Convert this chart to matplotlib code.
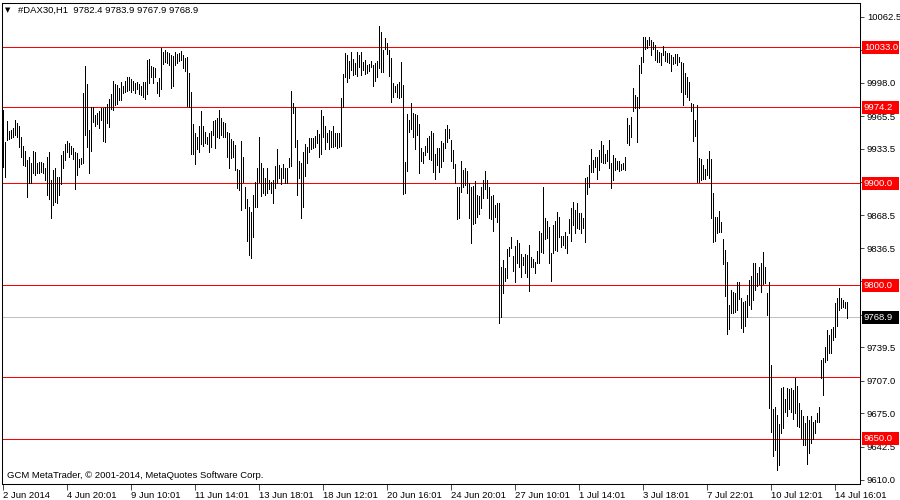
import matplotlib
matplotlib.use("Agg")
import matplotlib.pyplot as plt
from matplotlib.patches import Rectangle
from matplotlib.transforms import blended_transform_factory

symbol = "#DAX30,H1"
last_bar = [9782.4, 9783.9, 9767.9, 9768.9]

# hourly bar highs / lows
highs = [
    9971, 9940, 9961, 9951, 9952, 9954, 9962, 9959, 9956, 9945,
    9936, 9931, 9923, 9926, 9920, 9931, 9930, 9920, 9921, 9921,
    9920, 9915, 9926, 9930, 9903, 9913, 9915, 9906, 9906, 9927,
    9931, 9938, 9941, 9939, 9936, 9934, 9930, 9929, 9924, 9925,
    9988, 10014, 9997, 9952, 9974, 9974, 9967, 9969, 9970, 9973,
    9973, 9974, 9977, 9982, 9987, 10000, 9997, 9996, 9993, 9999,
    9995, 10000, 10004, 10004, 10002, 10000, 9998, 9999, 9997, 9995,
    9999, 9999, 10020, 10021, 10014, 10013, 10012, 9999, 10003, 10032,
    10028, 10030, 10028, 10027, 10025, 10024, 10028, 10026, 10027, 10029,
    10025, 10022, 10023, 10008, 9989, 9958, 9949, 9945, 9956, 9970,
    9956, 9950, 9945, 9949, 9951, 9961, 9962, 9964, 9971, 9964,
    9960, 9959, 9950, 9949, 9943, 9941, 9937, 9914, 9913, 9941,
    9926, 9896, 9884, 9877, 9872, 9888, 9901, 9915, 9945, 9920,
    9915, 9905, 9915, 9903, 9901, 9903, 9917, 9933, 9918, 9915,
    9919, 9915, 9915, 9925, 9990, 9978, 9974, 9942, 9922, 9920,
    9930, 9938, 9935, 9944, 9944, 9944, 9946, 9952, 9948, 9971,
    9966, 9956, 9949, 9952, 9951, 9956, 9949, 9949, 9949, 9983,
    10007, 10027, 10025, 10019, 10028, 10021, 10017, 10028, 10025, 10028,
    10018, 10020, 10015, 10016, 10019, 10015, 10017, 10019, 10054, 10048,
    10030, 10042, 10037, 10030, 10022, 9998, 9995, 9997, 9999, 10018,
    9996, 9921, 9968, 9962, 9978, 9969, 9968, 9967, 9958, 9934,
    9930, 9936, 9944, 9946, 9951, 9949, 9928, 9934, 9934, 9941,
    9939, 9953, 9957, 9953, 9942, 9932, 9919, 9896, 9896, 9922,
    9913, 9915, 9912, 9900, 9896, 9897, 9902, 9888, 9887, 9896,
    9903, 9912, 9903, 9896, 9887, 9888, 9879, 9881, 9881, 9818,
    9825, 9817, 9836, 9838, 9847, 9829, 9839, 9844, 9841, 9831,
    9828, 9831, 9830, 9840, 9828, 9826, 9823, 9834, 9853, 9851,
    9896, 9866, 9863, 9857, 9832, 9859, 9863, 9872, 9867, 9848,
    9848, 9852, 9848, 9865, 9876, 9882, 9874, 9881, 9871, 9871,
    9866, 9905, 9906, 9918, 9933, 9923, 9926, 9926, 9932, 9941,
    9937, 9928, 9932, 9942, 9920, 9927, 9925, 9922, 9922, 9919,
    9920, 9926, 9964, 9957, 9965, 9993, 9986, 9984, 10015, 10023,
    10043, 10043, 10040, 10043, 10040, 10038, 10035, 10030, 10028, 10027,
    10034, 10029, 10027, 10027, 10025, 10023, 10026, 10026, 10023, 10018,
    10017, 10008, 10004, 9999, 9978, 9977, 9962, 9976, 9925, 9924,
    9918, 9914, 9924, 9931, 9924, 9890, 9867, 9867, 9873, 9862,
    9845, 9835, 9823, 9781, 9796, 9794, 9793, 9803, 9803, 9788,
    9784, 9785, 9791, 9805, 9809, 9822, 9822, 9812, 9818, 9822,
    9833, 9818, 9793, 9803, 9722, 9679, 9681, 9673, 9665, 9700,
    9701, 9689, 9700, 9699, 9700, 9698, 9710, 9702, 9685, 9678,
    9672, 9666, 9672, 9669, 9672, 9667, 9669, 9675, 9681, 9727,
    9729, 9740, 9756, 9752, 9757, 9759, 9783, 9788, 9798, 9788,
    9786, 9784, 9783.9,
]
lows = [
    9916, 9906, 9942, 9943, 9944, 9945, 9947, 9945, 9935, 9926,
    9918, 9917, 9886, 9900, 9900, 9910, 9908, 9910, 9910, 9911,
    9910, 9903, 9888, 9884, 9866, 9879, 9882, 9881, 9888, 9899,
    9915, 9923, 9930, 9926, 9928, 9924, 9894, 9908, 9916, 9919,
    9920, 9947, 9935, 9910, 9931, 9960, 9956, 9958, 9954, 9962,
    9941, 9940, 9959, 9955, 9972, 9971, 9976, 9977, 9981, 9981,
    9988, 9989, 9990, 9991, 9989, 9991, 9988, 9992, 9987, 9986,
    9984, 9982, 9987, 9998, 10004, 9998, 10004, 9988, 9985, 9992,
    10016, 10018, 10017, 10015, 9993, 9995, 10015, 10017, 10019, 10020,
    10012, 10010, 9975, 9974, 9928, 9928, 9919, 9933, 9930, 9938,
    9936, 9939, 9938, 9930, 9935, 9947, 9934, 9945, 9944, 9947,
    9945, 9945, 9926, 9915, 9925, 9926, 9913, 9895, 9893, 9874,
    9901, 9876, 9843, 9830, 9827, 9847, 9877, 9877, 9901, 9887,
    9890, 9888, 9890, 9894, 9890, 9881, 9895, 9900, 9905, 9899,
    9905, 9900, 9900, 9916, 9917, 9969, 9935, 9888, 9905, 9866,
    9877, 9907, 9920, 9930, 9933, 9934, 9935, 9939, 9926, 9928,
    9945, 9933, 9940, 9933, 9935, 9935, 9936, 9934, 9935, 9936,
    9974, 10004, 9999, 10003, 10011, 10006, 10007, 10005, 10013, 10006,
    10011, 10007, 10008, 10010, 10013, 9995, 10000, 10004, 10012, 10009,
    10009, 10031, 10026, 10005, 9979, 9984, 9989, 9984, 9983, 9984,
    9889, 9890, 9912, 9950, 9953, 9945, 9933, 9947, 9910, 9922,
    9920, 9927, 9930, 9924, 9923, 9911, 9904, 9918, 9911, 9916,
    9922, 9934, 9940, 9944, 9922, 9915, 9900, 9865, 9866, 9891,
    9896, 9898, 9890, 9866, 9841, 9860, 9861, 9867, 9870, 9876,
    9885, 9894, 9885, 9866, 9865, 9853, 9867, 9862, 9763, 9769,
    9793, 9804, 9807, 9829, 9837, 9814, 9803, 9822, 9818, 9808,
    9820, 9812, 9808, 9795, 9818, 9818, 9812, 9822, 9822, 9833,
    9832, 9845, 9846, 9822, 9804, 9832, 9835, 9834, 9847, 9838,
    9840, 9837, 9832, 9851, 9843, 9859, 9851, 9856, 9855, 9851,
    9856, 9842, 9889, 9896, 9911, 9911, 9916, 9904, 9913, 9921,
    9920, 9920, 9922, 9915, 9895, 9903, 9913, 9914, 9912, 9913,
    9914, 9913, 9939, 9937, 9945, 9970, 9973, 9940, 9973, 10008,
    10018, 10031, 10032, 10035, 10025, 10031, 10020, 10018, 10018, 10015,
    10025, 10019, 10018, 10017, 10010, 10016, 10017, 10015, 10018, 9989,
    9976, 9987, 9984, 9981, 9970, 9941, 9946, 9901, 9901, 9903,
    9904, 9904, 9908, 9905, 9866, 9842, 9843, 9851, 9852, 9852,
    9821, 9790, 9753, 9757, 9773, 9773, 9774, 9776, 9787, 9758,
    9755, 9760, 9769, 9781, 9777, 9786, 9796, 9799, 9801, 9794,
    9801, 9802, 9771, 9680, 9657, 9633, 9639, 9620, 9625, 9656,
    9661, 9676, 9672, 9679, 9676, 9670, 9675, 9663, 9662, 9651,
    9644, 9644, 9626, 9636, 9646, 9650, 9656, 9667, 9667, 9710,
    9693, 9725, 9727, 9734, 9734, 9747, 9750, 9760, 9776, 9778,
    9779, 9778, 9767.9,
]

date_labels = ["2 Jun 2014", "4 Jun 20:01", "9 Jun 10:01", "11 Jun 14:01",
               "13 Jun 18:01", "18 Jun 12:01", "20 Jun 16:01", "24 Jun 20:01",
               "27 Jun 10:01", "1 Jul 14:01", "3 Jul 18:01", "7 Jul 22:01",
               "10 Jul 12:01", "14 Jul 16:01"]
BARS_PER_LABEL = 32

tagged_levels = [10033.0, 9974.2, 9900.0, 9800.0, 9650.0]
plain_levels = [9711.0]
bid = last_bar[3]
price_ticks = [10062.5, 10030.0, 9998.0, 9965.5, 9933.5, 9901.0, 9868.5,
               9836.5, 9804.0, 9771.5, 9739.5, 9707.0, 9675.0, 9642.5, 9610.0]
# labels fully covered by a price tag in the terminal
covered_ticks = [10030.0, 9901.0, 9771.5]

plt.rcParams["font.family"] = ["Liberation Sans", "DejaVu Sans"]
FS = 6.8
LW = 0.5

fig = plt.figure(figsize=(9, 5), dpi=100)
ax = fig.add_axes([2 / 900, 16 / 500, 858 / 900, 481 / 500])

for lvl in tagged_levels + plain_levels:
    ax.axhline(lvl, color="#ff0000", linewidth=LW, antialiased=False, zorder=1)
ax.axhline(bid, color="#c0c0c0", linewidth=LW, antialiased=False, zorder=1)

ax.vlines(range(len(highs)), lows, highs, colors="black", linewidth=LW,
          antialiased=False, zorder=2)

ax.set_xlim(-0.5, 428.5)
ax.set_ylim(9606, 10076)

ax.yaxis.tick_right()
ax.set_yticks(price_ticks)
ax.set_yticklabels(["" if p in covered_ticks else f"{p:.1f}" for p in price_ticks])
ax.tick_params(axis="y", length=3, width=LW, pad=2, labelsize=FS)

ax.set_xticks([i * BARS_PER_LABEL for i in range(len(date_labels))])
ax.set_xticklabels(date_labels, ha="left")
ax.tick_params(axis="x", length=4, width=LW, pad=1, labelsize=FS)

for s in ax.spines.values():
    s.set_linewidth(0.75)
    s.set_color("black")

# price tags on the right edge
tr = blended_transform_factory(fig.transFigure, ax.transData)
tag_h = 12.7
for lvl, col in [(l, "#ff0000") for l in tagged_levels] + [(bid, "black")]:
    fig.add_artist(Rectangle((862 / 900, lvl - tag_h / 2), 37 / 900, tag_h,
                             transform=tr, facecolor=col, edgecolor="none",
                             zorder=5))
    fig.add_artist(plt.Text(864 / 900, lvl, f"{lvl:.1f}", transform=tr,
                            color="white", fontsize=FS, va="center",
                            ha="left", zorder=6))

fig.text(5 / 900, 1 - 10 / 500, "▼", fontsize=5, va="center",
         family="DejaVu Sans")
fig.text(18 / 900, 1 - 10 / 500,
         symbol + "  " + " ".join(f"{v:.1f}" for v in last_bar),
         fontsize=FS, va="center")
fig.text(7 / 900, 1 - 475 / 500,
         "GCM MetaTrader, © 2001-2014, MetaQuotes Software Corp.",
         fontsize=FS, va="center")

fig.savefig("out.png", dpi=100)
